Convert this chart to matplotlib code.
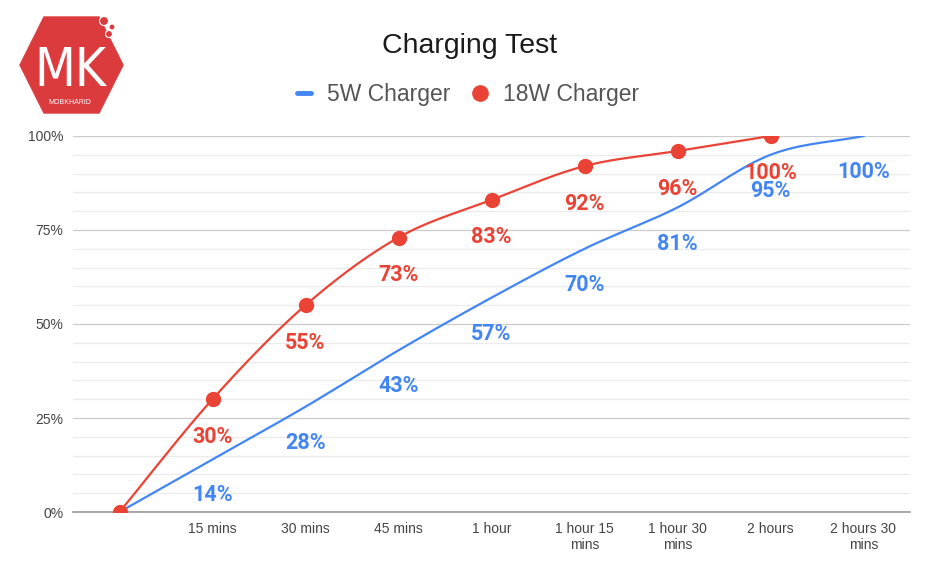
import numpy as np
import matplotlib.pyplot as plt
from matplotlib.lines import Line2D
from matplotlib.patches import Polygon, Circle

# chart data
times = ["", "15 mins", "30 mins", "45 mins", "1 hour", "1 hour 15\nmins",
         "1 hour 30\nmins", "2 hours", "2 hours 30\nmins"]
charge_5w = [0, 14, 28, 43, 57, 70, 81, 95, 100]
charge_18w = [0, 30, 55, 73, 83, 92, 96, 100]

blue = "#4285F4"
red = "#EA4335"


def smooth(xs, ys, n=30):
    # cubic hermite through the points (catmull-rom style tangents)
    xs = np.asarray(xs, float)
    ys = np.asarray(ys, float)
    m = np.gradient(ys, xs)
    out_x, out_y = [], []
    for i in range(len(xs) - 1):
        t = np.linspace(0, 1, n)
        h = xs[i + 1] - xs[i]
        h00 = 2 * t**3 - 3 * t**2 + 1
        h10 = t**3 - 2 * t**2 + t
        h01 = -2 * t**3 + 3 * t**2
        h11 = t**3 - t**2
        out_x.extend(xs[i] + t * h)
        out_y.extend(h00 * ys[i] + h10 * h * m[i] + h01 * ys[i + 1] + h11 * h * m[i + 1])
    return np.array(out_x), np.array(out_y)


plt.rcParams['font.family'] = ['Liberation Sans', 'DejaVu Sans']
fig = plt.figure(figsize=(9.4, 5.82), dpi=100)

# logo (drawn in pixel coords on a background axes)
lg = fig.add_axes([0, 0, 1, 1])
lg.set_xlim(0, 940)
lg.set_ylim(582, 0)
lg.axis("off")
logo_red = "#DC3B3D"
lg.add_patch(Polygon([(20, 65), (44, 17), (99, 17), (123, 65), (99, 113), (44, 113)],
                     closed=True, color=logo_red))
for cx, cy, r in [(104, 21, 4.5), (112, 27, 3), (109, 34, 3.5)]:
    lg.add_patch(Circle((cx, cy), r, color=logo_red, ec="white", lw=0.8))
lg.text(70, 71, "MK", color="white", fontsize=38, ha="center", va="center",
        family="DejaVu Sans", fontweight="light", fontstretch="condensed")
lg.text(70, 102, "MOBKHARID", color="white", fontsize=5, ha="center", va="center")

ax = fig.add_axes([73 / 940, 1 - 512 / 582, (910 - 73) / 940, (512 - 136) / 582])
x5 = np.arange(len(charge_5w))
x18 = np.arange(len(charge_18w))

sx, sy = smooth(x5, charge_5w)
ax.plot(sx, sy, color=blue, lw=1.6, zorder=3)
sx, sy = smooth(x18, charge_18w)
ax.plot(sx, sy, color=red, lw=1.6, zorder=3)
ax.plot(x18, charge_18w, "o", color=red, ms=10, zorder=4)

for x, v in zip(x5[1:], charge_5w[1:]):
    ax.annotate(f"{v}%", (x, v), xytext=(0, -26), textcoords="offset points",
                ha="center", va="center", color=blue, fontsize=15.5, fontweight="bold",
                family="Roboto", zorder=5)
for x, v in zip(x18[1:], charge_18w[1:]):
    ax.annotate(f"{v}%", (x, v), xytext=(0, -27), textcoords="offset points",
                ha="center", va="center", color=red, fontsize=15.5, fontweight="bold",
                family="Roboto", zorder=5)

ax.set_xlim(-0.5, 8.5)
ax.set_ylim(0, 100)
ax.set_xticks(np.arange(len(times)))
ax.set_xticklabels(times, fontsize=10, color="#444444", linespacing=1.25)
ax.set_yticks([0, 25, 50, 75, 100])
ax.set_yticklabels(["0%", "25%", "50%", "75%", "100%"], fontsize=10, color="#444444")
ax.set_yticks(np.arange(0, 101, 5), minor=True)
ax.tick_params(axis="both", which="both", length=0)
ax.tick_params(axis="x", pad=7)
ax.tick_params(axis="y", pad=7)
ax.grid(axis="y", which="major", color="#cccccc", lw=0.9)
ax.grid(axis="y", which="minor", color="#ebebeb", lw=0.9)
for s in ["top", "right", "left"]:
    ax.spines[s].set_visible(False)
ax.spines["bottom"].set_color("#999999")
ax.spines["bottom"].set_linewidth(1.2)
ax.patch.set_alpha(0)

fig.text(470 / 940, 1 - 46 / 582, "Charging Test", ha="center", va="center", fontsize=20.5, color="#1a1a1a")
handles = [Line2D([], [], color=blue, lw=3.5, solid_capstyle="round"),
           Line2D([], [], marker="o", ls="", color=red, ms=11)]
fig.legend(handles, ["5W Charger", "18W Charger"], loc="center", bbox_to_anchor=(468 / 940, 1 - 95 / 582),
           ncol=2, frameon=False, fontsize=16.5, labelcolor="#555555", handlelength=0.6,
           handletextpad=0.7, columnspacing=1.0)

fig.savefig("out.png", dpi=100)
